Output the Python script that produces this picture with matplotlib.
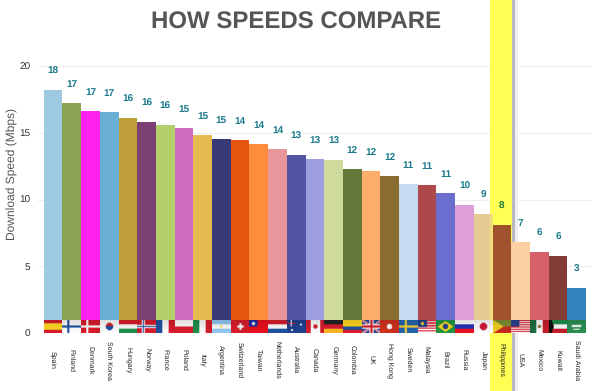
import numpy as np
import matplotlib
matplotlib.use('Agg')
import matplotlib.pyplot as plt
from matplotlib.colors import to_rgb

COUNTRIES = ["Spain", "Finland", "Denmark", "South Korea", "Hungary", "Norway", "France", "Poland",
             "Italy", "Argentina", "Switzerland", "Taiwan", "Netherlands", "Australia", "Canada",
             "Germany", "Colombia", "UK", "Hong Kong", "Sweden", "Malaysia", "Brazil", "Russia",
             "Japan", "Philippines", "USA", "Mexico", "Kuwait", "Saudi Arabia"]
SPEEDS = [18.2, 17.2, 16.6, 16.55, 16.08, 15.8, 15.6, 15.33, 14.83, 14.5, 14.43, 14.18, 13.76, 13.36,
          13.0, 12.96, 12.26, 12.11, 11.78, 11.18, 11.06, 10.51, 9.61, 8.89, 8.11, 6.82, 6.04, 5.79, 3.39]
LABELS = [18, 17, 17, 17, 16, 16, 16, 15, 15, 15, 14, 14, 14, 13, 13, 13, 12, 12, 12, 11, 11, 11,
          10, 9, 8, 7, 6, 6, 3]
COLORS = ["#9ecae1", "#8ca252", "#ff22ee", "#6baed6", "#bd9e39", "#7b4173", "#b5cf6b", "#ce6dbd",
          "#e7ba52", "#393b79", "#e6550d", "#fd8d3c", "#e7969c", "#5254a3", "#9c9ede", "#cedb9c",
          "#637939", "#fdae6b", "#8c6d31", "#c6dbef", "#ad494a", "#6b6ecf", "#de9ed6", "#e7cb94",
          "#a0522d", "#fdd0a2", "#d6616b", "#843c39", "#3182bd"]
YTICKS = [0, 5, 10, 15, 20]
HIGHLIGHT = "Philippines"

W, H = 592, 391
FW, FH = 36, 24
RED, WHITE, BLUE, GREEN, YELLOW = "#d01c2a", "#f4f4f4", "#1f4f9c", "#1d8a4a", "#f6d020"


def stripes(colors, vertical=False):
    img = np.zeros((FH, FW, 3))
    n = len(colors)
    for k, c in enumerate(colors):
        if vertical:
            img[:, k * FW // n:(k + 1) * FW // n] = to_rgb(c)
        else:
            img[k * FH // n:(k + 1) * FH // n, :] = to_rgb(c)
    return img


def cross(img, c, t=2, cx=12):
    img[FH // 2 - t:FH // 2 + t, :] = to_rgb(c)
    img[:, cx - t:cx + t] = to_rgb(c)
    return img


def dot(img, c, r=5, cx=FW / 2 - 0.5, cy=FH / 2 - 0.5):
    yy, xx = np.mgrid[:FH, :FW]
    img[(xx - cx) ** 2 + (yy - cy) ** 2 <= r ** 2] = to_rgb(c)
    return img


def canton(img, c, w=16, h=12):
    img[:h, :w] = to_rgb(c)
    return img


def make_flag(name):
    yy, xx = np.mgrid[:FH, :FW]
    if name == "Spain":
        return stripes([RED, YELLOW, YELLOW, RED])
    if name == "Finland":
        return cross(stripes([WHITE]), BLUE)
    if name == "Denmark":
        return cross(stripes([RED]), WHITE)
    if name == "South Korea":
        img = stripes([WHITE])
        disc = (xx - 17.5) ** 2 + (yy - 11.5) ** 2 <= 49
        img[disc] = to_rgb(BLUE)
        img[disc & (yy < 11)] = to_rgb(RED)
        return img
    if name == "Hungary":
        return stripes([RED, WHITE, GREEN])
    if name == "Norway":
        return cross(cross(stripes([RED]), WHITE, 3), BLUE, 1)
    if name == "France":
        return stripes([BLUE, WHITE, RED], True)
    if name == "Poland":
        return stripes([WHITE, RED])
    if name == "Italy":
        return stripes([GREEN, WHITE, RED], True)
    if name == "Argentina":
        return dot(stripes(["#8cc0e8", WHITE, "#8cc0e8"]), YELLOW, r=2)
    if name == "Switzerland":
        img = stripes([RED])
        img[10:14, 12:24] = to_rgb(WHITE)
        img[6:18, 16:20] = to_rgb(WHITE)
        return img
    if name == "Taiwan":
        return dot(canton(stripes(["#e0101c"]), "#1a2f9c"), WHITE, r=3, cx=8, cy=6)
    if name == "Netherlands":
        return stripes([RED, WHITE, BLUE])
    if name == "Australia":
        img = stripes(["#1f3f8c"])
        img[5:7, :16] = to_rgb(RED)
        img[:12, 7:9] = to_rgb(WHITE)
        return dot(dot(img, WHITE, r=2, cx=26, cy=8), WHITE, r=2, cx=9, cy=18)
    if name == "Canada":
        img = stripes([RED, WHITE, WHITE, RED], True)
        return dot(img, RED, r=4)
    if name == "Germany":
        return stripes(["#222222", RED, "#f0b020"])
    if name == "Colombia":
        return stripes([YELLOW, YELLOW, BLUE, RED])
    if name == "UK":
        img = stripes(["#2a3f8c"])
        d1 = np.abs(yy / FH - xx / FW) < 0.09
        d2 = np.abs(yy / FH - (1 - xx / FW)) < 0.09
        img[d1 | d2] = to_rgb(WHITE)
        img[np.abs(yy / FH - xx / FW) < 0.04] = to_rgb(RED)
        img[np.abs(yy / FH - (1 - xx / FW)) < 0.04] = to_rgb(RED)
        return cross(cross(img, WHITE, 4, 18), RED, 2, 18)
    if name == "Hong Kong":
        return dot(stripes(["#c8301c"]), WHITE, r=5)
    if name == "Sweden":
        return cross(stripes(["#2060a8"]), "#f0c830", 2, 13)
    if name == "Malaysia":
        img = stripes([RED, WHITE] * 5)
        return dot(canton(img, "#1f3f8c", 17, 13), YELLOW, r=3, cx=8, cy=6)
    if name == "Brazil":
        img = stripes(["#1f9040"])
        img[np.abs(xx - 17.5) / 15 + np.abs(yy - 11.5) / 10 <= 1] = to_rgb("#f0d020")
        return dot(img, "#1f3f8c", r=5)
    if name == "Russia":
        return stripes([WHITE, "#2030b0", "#e01020"])
    if name == "Japan":
        return dot(stripes([WHITE]), "#c81c34", r=7)
    if name == "Philippines":
        img = stripes(["#7a8a30", "#c02a1c"])
        img[xx / 20 + np.abs(yy - 11.5) / 12 <= 1] = to_rgb("#e8c820")
        return img
    if name == "USA":
        img = stripes([RED, WHITE] * 6)
        return canton(img, "#2a3f8c", 16, 12)
    if name == "Mexico":
        return dot(stripes(["#1d6a40", WHITE, "#c01c28"], True), "#8a6a30", r=3)
    if name == "Kuwait":
        img = stripes(["#1d8a4a", WHITE, "#c01c28"])
        img[xx / 9 + np.abs(yy - 11.5) / 24 <= 1] = to_rgb("#111111")
        return img
    img = stripes(["#2a8a50"])
    img[9:13, 9:27] = to_rgb(WHITE)
    img[16:18, 12:24] = to_rgb(WHITE)
    return img


def column(ax, left, width, color, zorder, alpha=1.0):
    ax.add_patch(plt.Rectangle((left / W, 0), width / W, 1, transform=ax.figure.transFigure,
                               facecolor=color, edgecolor="none", clip_on=False,
                               zorder=zorder, alpha=alpha))


if __name__ == '__main__':
    plt.rcParams['font.family'] = ['Liberation Sans', 'DejaVu Sans']
    plt.rcParams['text.hinting'] = 'none'
    plt.rcParams['text.hinting_factor'] = 1
    fig = plt.figure(figsize=(W / 100, H / 100), dpi=100)
    ax = fig.add_axes([38 / W, (H - 333) / H, (W - 38) / W, 267 / H])
    ax.set_facecolor("none")
    fig.patch.set_facecolor("white")

    x = np.arange(len(COUNTRIES))
    bar_px = 18.7
    x_left = -0.5 - (43.7 - 38) / bar_px
    x_right = x_left + (W - 38) / bar_px

    # highlight column runs the full height of the picture, over the grid but behind the bars
    column(ax, 515, 3, "#eeeeee", 1.0)
    column(ax, 512, 3, "#b8b8c0", 1.1)
    column(ax, 490, 22, "#ffff55", 1.2)

    ax.bar(x, SPEEDS, width=1.0, color=COLORS, linewidth=0, zorder=2)
    column(ax, 490, 2.5, "#ffff55", 2.5, alpha=0.35)

    for i, name in enumerate(COUNTRIES):
        img = make_flag(name)
        shade = np.linspace(0.92, 1.04, FH)[:, None, None]
        ax.imshow(np.clip(img * shade, 0, 1), extent=(i - 0.5, i + 0.5, 0.03, 0.97), aspect='auto',
                  interpolation='bilinear', zorder=3)
        ax.annotate(str(LABELS[i]), (i, SPEEDS[i]), xytext=(0, 13.4), textcoords='offset points',
                    ha='center', va='center', fontsize=7, fontweight='bold',
                    color="#1b7a3c" if name == HIGHLIGHT else "#1a7a8c", zorder=4)
        ax.annotate(name, (i, 0), xytext=(0, -19.5), textcoords='offset points', rotation=270,
                    ha='center', va='center', fontsize=5.2, color="#222222", annotation_clip=False)

    ax.set_xlim(x_left, x_right)
    ax.set_ylim(0, 20)
    ax.set_xticks([])
    ax.set_yticks(YTICKS)
    ax.tick_params(axis='y', length=0, pad=5.5, labelsize=7, labelcolor="#333333")
    ax.grid(axis='y', color="#eeeeee", linewidth=0.8, zorder=0.5)
    ax.set_axisbelow(True)
    for s in ax.spines.values():
        s.set_visible(False)

    fig.text(12 / W, (H - 174) / H, "Download Speed (Mbps)", rotation=90, ha='center', va='center',
             fontsize=8.7, color="#555555")
    fig.text(296 / W, (H - 23) / H, "HOW SPEEDS COMPARE", ha='center', va='center',
             fontsize=17.3, fontweight='bold', color="#555555")

    fig.savefig("out.png", dpi=100)
